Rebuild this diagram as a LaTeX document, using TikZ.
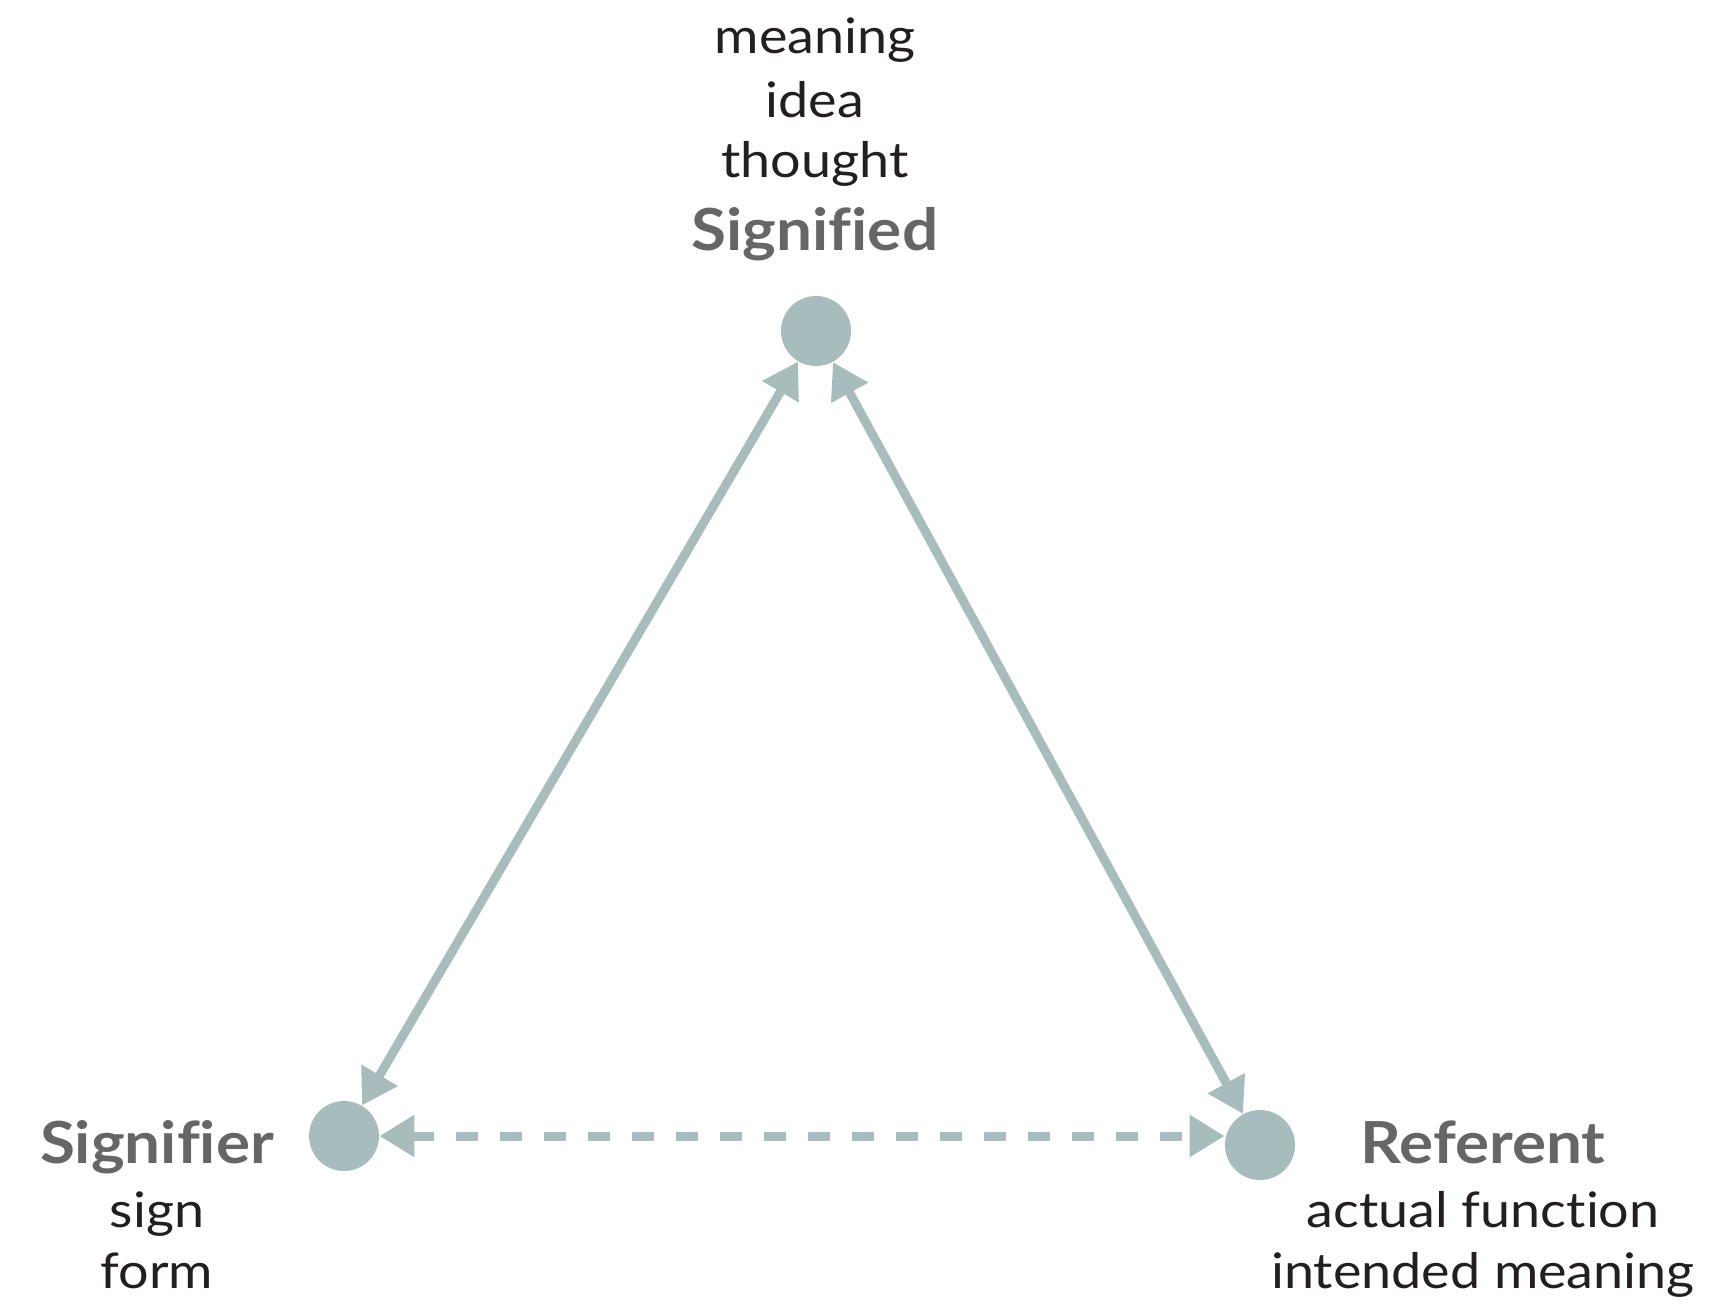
\documentclass[tikz,border=0pt]{standalone}
\usepackage{fontspec}
\setmainfont{Lato}[FakeStretch=1.1,Ligatures=NoCommon]
\usetikzlibrary{arrows.meta}
\definecolor{dotc}{HTML}{A7BCBC}
\definecolor{headc}{HTML}{666666}
\definecolor{txtc}{HTML}{231F20}
\begin{document}
\begin{tikzpicture}[x=0.5pt,y=-0.5pt,
  dot/.style={circle,fill=dotc,minimum size=35pt,inner sep=0pt},
  head/.style={anchor=base,font=\fontsize{29}{34}\selectfont\bfseries,text=headc,inner sep=0pt},
  sub/.style={anchor=base,font=\fontsize{24.5}{30}\selectfont,text=txtc,inner sep=0pt},
  duo/.style={draw=dotc,line width=4.5pt,{Triangle[length=17.5pt,width=20pt]}-{Triangle[length=17.5pt,width=20pt]}}
]
\useasboundingbox (0,0) rectangle (1733,1306);
\fill[white] (0,0) rectangle (1733,1306);
% circles
\node[dot] (sd) at (816,331) {};
\node[dot] (sr) at (344,1136) {};
\node[dot] (rf) at (1260,1145) {};
% top labels
\node[sub] (m1) at (815,53) {meaning};
\node[sub] (m2) at (815,117) {idea};
\node[sub] (m3) at (815,177) {thought};
\node[head] (sdt) at (815,250) {Signified};
% left labels
\node[head] (srt) at (157,1163) {Signifier};
\node[sub] (l1) at (157,1227) {sign};
\node[sub] (l2) at (157,1288) {form};
% right labels
\node[head] (rft) at (1483,1163) {Referent};
\node[sub] (r1) at (1483,1227) {actual function};
\node[sub] (r2) at (1483,1288) {intended meaning};
% connectors
\draw[duo] (sr) -- (sd);
\draw[duo] (sd) -- (rf);
\draw[duo,dash pattern=on 11pt off 11pt] (sr.east) -- (sr.east -| rf.west);
\end{tikzpicture}
\end{document}
